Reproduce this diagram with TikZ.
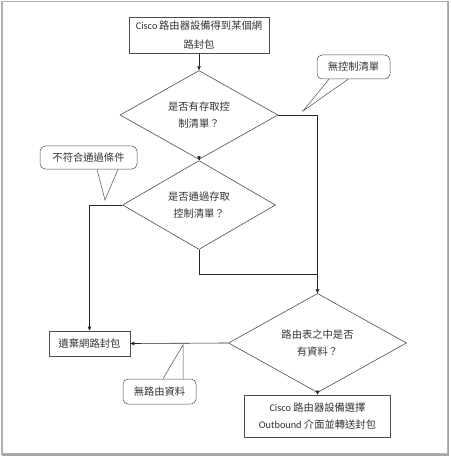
\documentclass[tikz,border=0pt]{standalone}
\usepackage{fontspec}
\setmainfont{Noto Sans CJK TC}
\newfontfamily\latinfont{Carlito}
\usetikzlibrary{arrows.meta,shapes.geometric}
\newcommand{\lat}[1]{{\latinfont #1}}

\begin{document}
\begin{tikzpicture}[
    x=1pt, y=-1pt,
    font=\fontsize{10.3}{17.5}\selectfont, text=black!80,
    stepbox/.style={draw=black!70, line width=0.6pt, align=center, inner sep=0pt},
    decision/.style={diamond, draw=black!70, line width=0.6pt, align=center,
                     inner sep=0pt},
    bubble/.style={draw=black!70, line width=0.5pt, rounded corners=5pt,
                   fill=white, align=center, inner sep=0pt},
    tail/.style={draw=black!70, line width=0.5pt},
    arrow/.style={-{Triangle[length=4pt,width=3.5pt]}, line width=0.6pt, black!85}
]
\useasboundingbox (0,0) rectangle (450,457);
% frame
\draw[black!30, line width=1.2pt] (2,1.5) rectangle (447.5,454);
\draw[black!35, line width=1.5pt] (448.5,1.5) -- (448.5,455) -- (2,455);

% flow
\node[stepbox, minimum width=140pt, minimum height=36pt] (receive) at (199,35)
    {\lat{Cisco}\,路由器設備得到某個網\\[1.5pt]路封包};
\node[decision, minimum width=158pt, minimum height=60pt] (hasacl) at (199,115)
    {是否有存取控\\制清單？};
\node[decision, minimum width=153pt, minimum height=70pt] (passacl) at (199,205)
    {是否通過存取\\控制清單？};
\node[decision, minimum width=178pt, minimum height=72pt] (route) at (317.5,343)
    {路由表之中是否\\有資料？};
\node[stepbox, minimum width=81pt, minimum height=25pt] (discard) at (89.5,343.5)
    {遺棄網路封包};
\node[stepbox, minimum width=146pt, minimum height=42pt] (forward) at (317.5,416)
    {\lat{Cisco} 路由器設備選擇\\\lat{Outbound} 介面並轉送封包};
\coordinate (merge) at (317.5,274);

\draw[arrow] (receive) -- (hasacl);
\draw[arrow] (hasacl) -- (passacl);
\draw[arrow] (hasacl.east) -| (route.north);
\draw[line width=0.6pt, black!85] (passacl.south) |- (merge);
\draw[arrow] (passacl.west) -| (discard.north);
\draw[arrow] (route.west) -- (discard.east);
\draw[arrow] (route.south) -- (forward.north);

% callouts
\node[bubble, minimum width=73pt, minimum height=24pt] (noacl) at (353.5,67)
    {無控制清單};
\coordinate (noacl tip) at (303,111);
\fill[white] ([xshift=-24.5pt,yshift=-1pt]noacl.south) -- (noacl tip)
    -- ([xshift=-5.5pt,yshift=-1pt]noacl.south) -- cycle;
\draw[tail] ([xshift=-24.5pt]noacl.south) -- (noacl tip)
    -- ([xshift=-5.5pt]noacl.south);

\node[bubble, minimum width=97pt, minimum height=23pt] (nomatch) at (88.5,157.5)
    {不符合通過條件};
\coordinate (nomatch tip) at (105,200);
\fill[white] ([xshift=8.5pt,yshift=-1pt]nomatch.south) -- (nomatch tip)
    -- ([xshift=29.5pt,yshift=-1pt]nomatch.south) -- cycle;
\draw[tail] ([xshift=8.5pt]nomatch.south) -- (nomatch tip)
    -- ([xshift=29.5pt]nomatch.south);

\node[bubble, minimum width=73pt, minimum height=25pt] (noroute) at (159.5,391.5)
    {無路由資料};
\coordinate (noroute tip) at (183,345);
\fill[white] ([xshift=3.5pt,yshift=1pt]noroute.north) -- (noroute tip)
    -- ([xshift=23.5pt,yshift=1pt]noroute.north) -- cycle;
\draw[tail] ([xshift=3.5pt]noroute.north) -- (noroute tip)
    -- ([xshift=23.5pt]noroute.north);
\end{tikzpicture}
\end{document}
